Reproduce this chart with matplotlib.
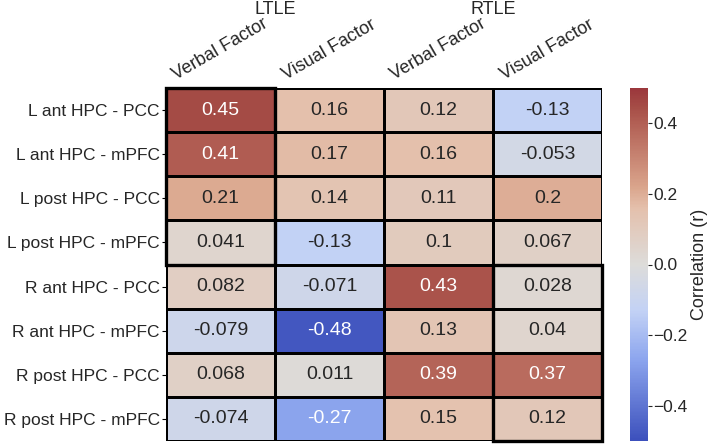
import numpy as np
import matplotlib
matplotlib.use("Agg")
import matplotlib.pyplot as plt
from matplotlib.colors import LinearSegmentedColormap
from matplotlib.patches import Rectangle

rows = ["L ant HPC - PCC", "L ant HPC - mPFC", "L post HPC - PCC", "L post HPC - mPFC",
        "R ant HPC - PCC", "R ant HPC - mPFC", "R post HPC - PCC", "R post HPC - mPFC"]
cols = ["Verbal Factor", "Visual Factor", "Verbal Factor", "Visual Factor"]
groups = ["LTLE", "RTLE"]

ltle_verbal = [0.45, 0.41, 0.21, 0.041, 0.082, -0.079, 0.068, -0.074]
ltle_visual = [0.16, 0.17, 0.14, -0.13, -0.071, -0.48, 0.011, -0.27]
rtle_verbal = [0.12, 0.16, 0.11, 0.1, 0.43, 0.13, 0.39, 0.15]
rtle_visual = [-0.13, -0.053, 0.2, 0.067, 0.028, 0.04, 0.37, 0.12]

data = np.array([ltle_verbal, ltle_visual, rtle_verbal, rtle_visual]).T

plt.rcParams['font.family'] = ['Liberation Sans', 'DejaVu Sans']

# muted coolwarm-like colormap
anchors = [
    (0.00, (60, 80, 188)),
    (0.23, (140, 165, 238)),
    (0.37, (195, 210, 245)),
    (0.50, (221, 220, 218)),
    (0.66, (228, 192, 172)),
    (0.72, (218, 165, 140)),
    (0.91, (176, 92, 82)),
    (0.95, (165, 76, 70)),
    (1.00, (155, 55, 60)),
]
cmap = LinearSegmentedColormap.from_list(
    "muted_cw", [(p, tuple(c / 255 for c in rgb)) for p, rgb in anchors])

fig = plt.figure(figsize=(7.09, 4.44), dpi=100)
ax = fig.add_axes([166 / 709, 3 / 444, 436 / 709, 353 / 444])
cax = fig.add_axes([630 / 709, 3 / 444, 18 / 709, 353 / 444])

nr, nc = data.shape
mesh = ax.pcolormesh(np.arange(nc + 1), np.arange(nr + 1), data, cmap=cmap,
                     vmin=-0.5, vmax=0.5, edgecolors='black', linewidth=0.8)
ax.set_xlim(0, nc)
ax.set_ylim(nr, 0)

for i in range(nr):
    for j in range(nc):
        v = data[i, j]
        color = 'white' if abs(v) > 0.25 else '#262626'
        ax.text(j + 0.5, i + 0.5, f"{v:g}", ha='center', va='center',
                fontsize=14, color=color)

ax.xaxis.tick_top()
ax.set_xticks(np.arange(nc) + 0.5)
ax.set_xticklabels(cols, rotation=30, ha='center', fontsize=13, color='#262626')
ax.tick_params(axis='x', length=0, pad=3)
ax.set_yticks(np.arange(nr) + 0.5)
ax.set_yticklabels(rows, fontsize=12.5, color='#262626')
ax.tick_params(axis='y', length=3, width=0.8, pad=1.5)
for s in ax.spines.values():
    s.set_visible(False)

# thick boxes
ax.add_patch(Rectangle((0, 0), 1, 4, fill=False, edgecolor='black', linewidth=2.4,
                       clip_on=False, zorder=5))
ax.add_patch(Rectangle((3, 4), 1, 4, fill=False, edgecolor='black', linewidth=2.4,
                       clip_on=False, zorder=5))

# group labels
for k, g in enumerate(groups):
    ax.text(1 + 2 * k, 1.222, g, transform=ax.get_xaxis_transform(),
            ha='center', va='center', fontsize=13, color='#262626')

cb = fig.colorbar(mesh, cax=cax)
cb.outline.set_visible(False)
cb.set_ticks([-0.4, -0.2, 0.0, 0.2, 0.4])
cb.ax.tick_params(labelsize=12.5, length=3, width=0.8, pad=1, colors='#262626')
cb.set_label("Correlation (r)", fontsize=13, color='#262626', labelpad=2)

fig.savefig("out.png", dpi=100)
